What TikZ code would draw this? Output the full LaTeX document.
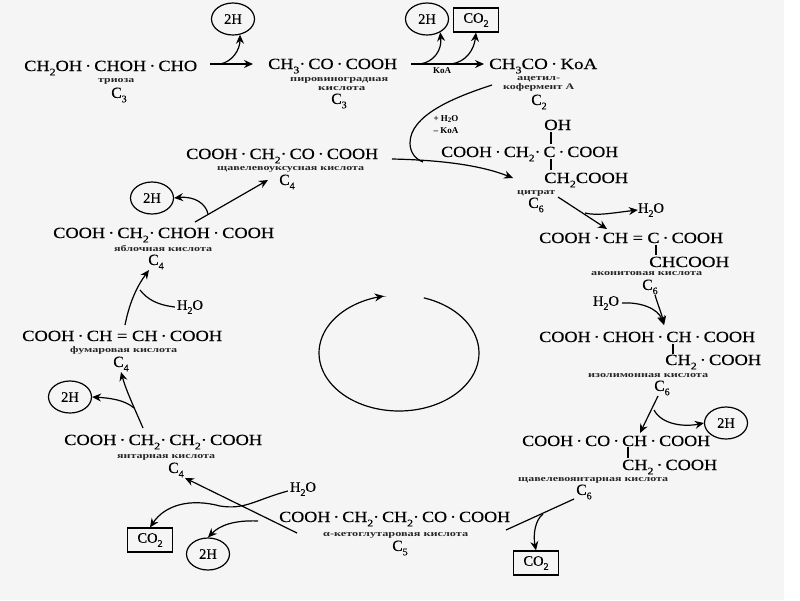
\documentclass[tikz,border=0pt]{standalone}
\usepackage{fontspec}
\setmainfont{Liberation Serif}
\newfontfamily\fmfont{Liberation Serif}[FakeBold=0.35]
\newfontfamily\lbfont{Liberation Serif Bold}
\usetikzlibrary{arrows.meta,shapes.geometric}
\newcommand\sbs[1]{\raisebox{-.28em}{\fontsize{10}{10}\selectfont #1}}
\newcommand\Fm[5]{\node[fm] (#1) at (#2,#5+5) {\resizebox{\dimexpr#3pt-#2pt\relax}{\height}{#4}};}
\newcommand\Lb[5]{\node[lb] (#1) at (#2,#5+3) {\resizebox{\dimexpr#3pt-#2pt\relax}{\height}{#4}};}
\newcommand\Cn[4]{\node[cn] (#1) at (#2,#3) {C\sbs{#4}};}
\tikzset{
  fm/.style={anchor=base west,inner sep=0pt,font=\fmfont\fontsize{15.5}{16}\selectfont},
  lb/.style={anchor=base west,inner sep=0pt,font=\lbfont\fontsize{8.5}{9}\selectfont,text=black!85},
  cn/.style={inner sep=0pt,font=\fmfont\fontsize{15.5}{16}\selectfont},
  hcirc/.style={draw,ellipse,line width=1.2pt,minimum width=43pt,minimum height=32pt,inner sep=0pt,font=\fmfont\fontsize{14.5}{15}\selectfont},
  cbox/.style={draw,rectangle,line width=1.2pt,minimum width=45pt,minimum height=24pt,inner sep=0pt,font=\fmfont\fontsize{14.5}{15}\selectfont},
  plain/.style={inner sep=0pt,font=\fmfont\fontsize{14.5}{15}\selectfont},
  small/.style={inner sep=0pt,font=\lbfont\fontsize{9}{10}\selectfont},
  ln/.style={line width=1.2pt},
  ar/.style={line width=1.2pt,-{Stealth[length=9pt,width=8pt,inset=3pt]}},
  bar/.style={line width=1.3pt}
}
\begin{document}
\begin{tikzpicture}[x=1pt,y=-1pt]
\useasboundingbox (0,0) rectangle (800,600);
\fill[white] (0,0) rectangle (800,600);
\fill[black!4] (0,0) rectangle (784,600);
% compounds
\Fm{tri}{24}{197}{CH\sbs2OH\,·\,CHOH\,·\,CHO}{66}
\Lb{trl}{98}{134}{триоза}{79}
\Cn{trc}{119}{95}{3}
\Fm{pyr}{268}{397}{CH\sbs3·\,CO\,·\,COOH}{64}
\Lb{pyl}{290}{388}{пировиноградная}{78}
\Lb{pyk}{318}{365}{кислота}{87}
\Cn{pyc}{339}{101}{3}
\Fm{ace}{489}{597}{CH\sbs3CO\,·\,KoA}{64}
\Lb{acl}{517}{560}{ацетил-}{77}
\Lb{ack}{503}{574}{кофермент А}{86}
\Cn{acc}{539}{102}{2}
\Fm{oh}{544}{571}{OH}{125}
\Fm{cit}{441}{618}{COOH\,·\,CH\sbs2·\,C\,·\,COOH}{152}
\Fm{cit2}{544}{628}{CH\sbs2COOH}{178}
\Lb{cil}{517}{555}{цитрат}{191}
\Cn{cic}{536}{205}{6}
\Fm{aco}{539}{723}{COOH\,·\,CH = C\,·\,COOH}{238}
\Fm{aco2}{649}{729}{CHCOOH}{262}
\Lb{aol}{591}{702}{аконитовая кислота}{272}
\Cn{aoc}{650}{287}{6}
\Fm{iso}{539}{755}{COOH\,·\,CHOH\,·\,CH\,·\,COOH}{337}
\Fm{iso2}{665}{761}{CH\sbs2\,·\,COOH}{360}
\Lb{isl}{588}{708}{изолимонная кислота}{374}
\Cn{isc}{662}{388}{6}
\Fm{oxs}{522}{710}{COOH\,·\,CO\,·\,CH\,·\,COOH}{441}
\Fm{oxs2}{622}{717}{CH\sbs2\,·\,COOH}{465}
\Lb{osl}{518}{668}{щавелевоянтарная кислота}{478}
\Cn{osc}{584}{492}{6}
\Fm{ket}{279}{510}{COOH\,·\,CH\sbs2·\,CH\sbs2·\,CO\,·\,COOH}{517}
\Lb{kel}{323}{468}{α-кетоглутаровая кислота}{533}
\Cn{kec}{400}{548}{5}
\Fm{suc}{64}{262}{COOH\,·\,CH\sbs2·\,CH\sbs2·\,COOH}{440}
\Lb{sul}{117}{215}{янтарная кислота}{455}
\Cn{suc4}{176}{470}{4}
\Fm{fum}{22}{222}{COOH\,·\,CH = CH\,·\,COOH}{336}
\Lb{ful}{70}{177}{фумаровая кислота}{349}
\Cn{fuc}{121}{364}{4}
\Fm{mal}{53}{274}{COOH\,·\,CH\sbs2·\,CHOH\,·\,COOH}{233}
\Lb{mll}{114}{212}{яблочная кислота}{248}
\Cn{mlc}{156}{262}{4}
\Fm{oxa}{186}{378}{COOH\,·\,CH\sbs2·\,CO\,·\,COOH}{154}
\Lb{oxl}{217}{364}{щавелевоуксусная кислота}{167}
\Cn{oxc}{287}{182}{4}
% side products
\node[hcirc] (h1) at (233,19) {2H};
\node[hcirc] (h2) at (427,19) {2H};
\node[cbox] (c1) at (476,20) {CO\sbs2};
\node[hcirc] (h3) at (726,423) {2H};
\node[cbox] (c2) at (536,563) {CO\sbs2};
\node[hcirc] (h4) at (208,554) {2H};
\node[cbox] (c3) at (150,540) {CO\sbs2};
\node[hcirc] (h5) at (70,397) {2H};
\node[hcirc] (h6) at (152,198) {2H};
\node[plain] (w1) at (651,210) {H\sbs2O};
\node[plain] (w2) at (606,303) {H\sbs2O};
\node[plain] (w3) at (303,489) {H\sbs2O};
\node[plain] (w4) at (190,307) {H\sbs2O};
\node[small] (koa) at (442,71) {KoA};
\node[small] (pw) at (446,119) {+ H\raisebox{-.2em}{\fontsize{7}{7}\selectfont 2}O};
\node[small] (mk) at (446,131) {– KoA};
% free ends
\coordinate (a1) at (210,64); \coordinate (a2) at (253,64); \coordinate (a3) at (220,64);
\coordinate (b1) at (411,64); \coordinate (b2) at (484,64); \coordinate (b3) at (420,64); \coordinate (b4) at (451,64);
\coordinate (d1) at (492,85); \coordinate (d2) at (423,162);
\coordinate (e1) at (392,159); \coordinate (e2) at (513,178);
\coordinate (f1) at (558,197); \coordinate (f2) at (607,229); \coordinate (f3) at (585,213);
\coordinate (g1) at (655,295); \coordinate (g2) at (664,325);
\coordinate (i1) at (658,396); \coordinate (i2) at (640,433); \coordinate (i3) at (654,410);
\coordinate (j1) at (574,499); \coordinate (j2) at (506,530); \coordinate (j3) at (543,514);
\coordinate (k1) at (297,533); \coordinate (k2) at (185,478); \coordinate (k3) at (258,521);
\coordinate (l1) at (143,428); \coordinate (l2) at (121,372); \coordinate (l3) at (134,408);
\coordinate (m1) at (125,325); \coordinate (m2) at (149,270); \coordinate (m3) at (140,290);
\coordinate (n1) at (195,222); \coordinate (n2) at (268,180); \coordinate (n3) at (208,214);
% bars
\coordinate (p1) at (551,132); \coordinate (p2) at (551,144);
\coordinate (p3) at (551,159); \coordinate (p4) at (551,170);
\coordinate (p5) at (656,245); \coordinate (p6) at (656,255);
\coordinate (p7) at (673,344); \coordinate (p8) at (673,354);
\coordinate (p9) at (628,447); \coordinate (p10) at (628,458);
\foreach \u/\v in {p1/p2,p3/p4,p5/p6,p7/p8,p9/p10} \draw[bar] (\u) -- (\v);
% connectors
\draw[ar] (a1) -- (a2);
\draw[ar] (a3) .. controls (232,62) and (240,50) .. (h1.-66);
\draw[ar] (b1) -- (b2);
\draw[ar] (b3) .. controls (434,62) and (442,50) .. (h2.-45);
\draw[ar] (b4) .. controls (466,62) and (474,50) .. (c1.south);
\draw[ln] (d1) .. controls (455,97) and (410,115) .. (410,143) .. controls (410,152) and (415,159) .. (d2);
\draw[ar] (e1) .. controls (440,160) and (480,165) .. (e2);
\draw[ar] (f1) -- (f2);
\draw[ar] (f3) .. controls (597,216) and (612,213) .. (w1.west);
\draw[ar] (g1) .. controls (658,305) and (662,315) .. (g2);
\draw[ar] (w2.east) ++(3,0) .. controls (640,302) and (658,308) .. (g2);
\draw[ar] (i1) -- (i2);
\draw[ar] (i3) .. controls (662,425) and (685,427) .. (h3.west);
\draw[ln] (j1) -- (j2);
\draw[ar] (j3) .. controls (535,520) and (533,535) .. (c2.north);
\draw[ar] (k1) -- (k2);
\draw[ar] (w3.west) ++(-2,2) .. controls (255,500) and (245,510) .. (220,506) .. controls (190,498) and (165,505) .. (c3.north);
\draw[ar] (k3) .. controls (235,520) and (220,525) .. (h4.north);
\draw[ar] (l1) .. controls (133,405) and (126,390) .. (l2);
\draw[ar] (l3) .. controls (125,400) and (110,398) .. (h5.east);
\draw[ar] (m1) .. controls (130,300) and (138,285) .. (m2);
\draw[ln] (w4.west) ++(-2,0) .. controls (158,305) and (148,300) .. (m3);
\draw[ar] (n1) -- (n2);
\draw[ar] (n3) .. controls (206,204) and (195,196) .. (h6.east);
% cycle direction
\draw[ar] plot[domain=-72:259,samples=80,smooth] ({399+80*cos(\x)},{353+58*sin(\x)});
\end{tikzpicture}
\end{document}
